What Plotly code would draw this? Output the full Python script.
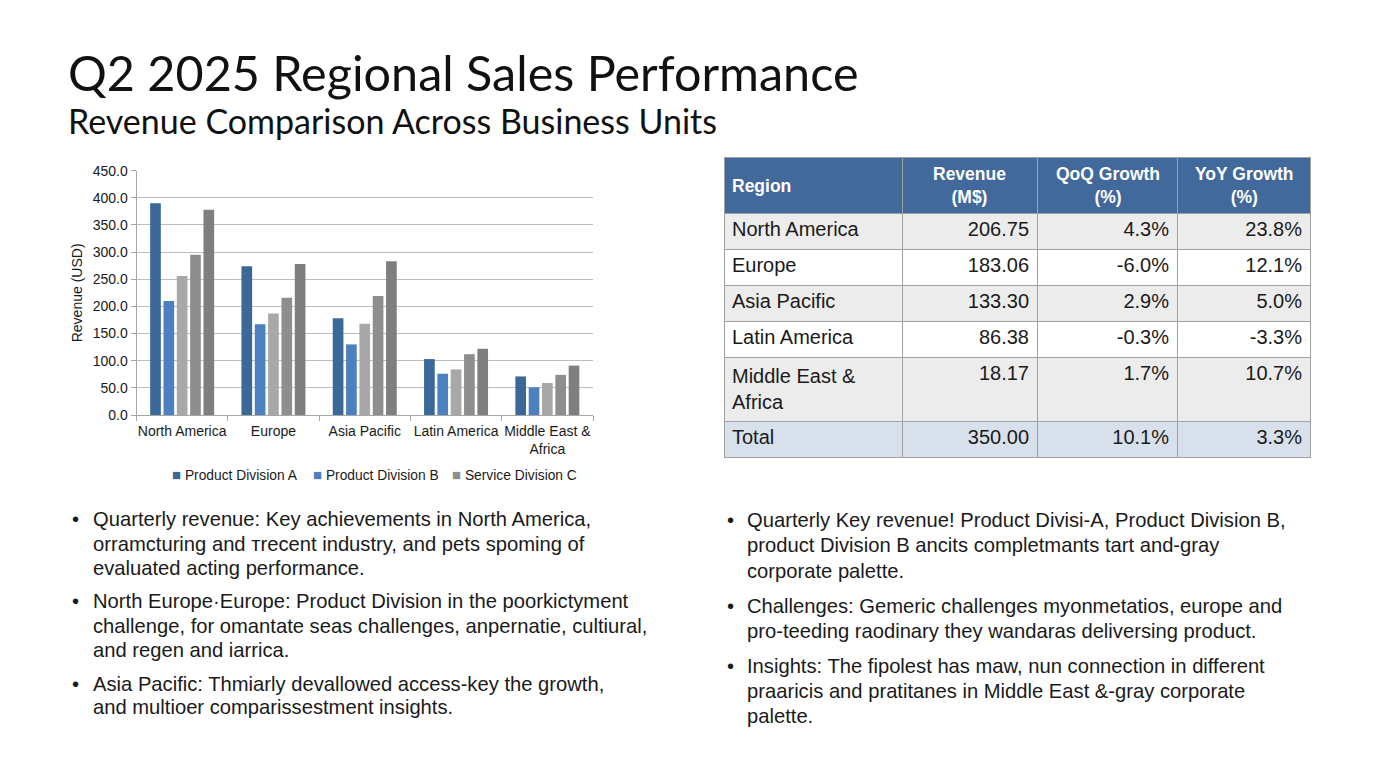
import plotly.graph_objects as go

# ---------------- data ----------------
regions = ["North America", "Europe", "Asia Pacific", "Latin America", "Middle East &<br>Africa"]
series_names = ["Product Division A", "Product Division B", "Service Division C", "Service Division C (2)", "Service Division C (3)"]
div_a = [390, 274, 178, 103, 71]
div_b = [210, 167, 130, 76, 51]
svc_c1 = [256, 187, 168, 84, 59]
svc_c2 = [295, 216, 219, 112, 74]
svc_c3 = [378, 278, 283, 122, 91]
series_values = [div_a, div_b, svc_c1, svc_c2, svc_c3]
series_colors = ["#3b6898", "#4c80be", "#a8a8a8", "#8e8e8e", "#7f7f7f"]
legend_names = ["Product Division A", "Product Division B", "Service Division C"]
legend_colors = ["#3b6898", "#4c80be", "#8e8e8e"]
y_ticks = [0, 50, 100, 150, 200, 250, 300, 350, 400, 450]

tbl_header = ["Region", "Revenue<br>(M$)", "QoQ Growth<br>(%)", "YoY Growth<br>(%)"]
tbl_region = ["North America", "Europe", "Asia Pacific", "Latin America", "Middle East &<br>Africa", "Total"]
tbl_revenue = ["206.75", "183.06", "133.30", "86.38", "18.17", "350.00"]
tbl_qoq = ["4.3%", "-6.0%", "2.9%", "-0.3%", "1.7%", "10.1%"]
tbl_yoy = ["23.8%", "12.1%", "5.0%", "-3.3%", "10.7%", "3.3%"]
row_fill = ["#ececec", "#ffffff", "#ececec", "#ffffff", "#ececec", "#d8e1eb"]

title_text = "Q2 2025 Regional Sales Performance"
subtitle_text = "Revenue Comparison Across Business Units"

left_bullets = [
    ["Quarterly revenue: Key achievements in North America,",
     "orramcturing and \u0442recent industry, and pets spoming of",
     "evaluated acting performance."],
    ["North Europe\u00b7Europe: Product Division in the poorkictyment",
     "challenge, for omantate seas challenges, anpernatie, cultiural,",
     "and regen and iarrica."],
    ["Asia Pacific: Thmiarly devallowed access-key the growth,",
     "and multioer comparissestment insights."],
]
right_bullets = [
    ["Quarterly Key revenue! Product Divisi-A, Product Division B,",
     "product Division B ancits completmants tart and-gray",
     "corporate palette."],
    ["Challenges: Gemeric challenges myonmetatios, europe and",
     "pro-teeding raodinary they wandaras deliversing product."],
    ["Insights: The fipolest has maw, nun connection in different",
     "praaricis and pratitanes in Middle East &-gray corporate",
     "palette."],
]
left_line_y = [[519, 544, 568], [601, 626, 650], [684, 707]]
right_line_y = [[520, 545, 571], [606, 631], [666, 691, 716]]
legend_x = [170, 311, 450]

# ---------------- geometry helpers ----------------
W, H = 1376, 768
# the page renders the figure 752px tall starting 8px from the top
def py(t):
    return (760 - t) / 752

def px(x):
    return x / W

fig = go.Figure()

for name, vals, col in zip(series_names, series_values, series_colors):
    fig.add_trace(go.Bar(
        x=regions, y=vals, name=name, marker=dict(color=col, line=dict(width=0)),
        showlegend=False, xaxis="x", yaxis="y",
    ))

tbl_left, tbl_right = 724, 1311
col_w = [178, 135, 140, 133]
fig.add_trace(go.Table(
    domain=dict(x=[px(tbl_left), px(tbl_right)], y=[py(470), py(157)]),
    columnwidth=col_w,
    header=dict(
        values=[""] * len(tbl_header),
        fill_color="#41699b",
        line=dict(color="#a0a0a0", width=1),
        height=56,
    ),
    cells=dict(
        values=[tbl_region, tbl_revenue, tbl_qoq, tbl_yoy],
        fill_color=[row_fill] * 4,
        line=dict(color="#a0a0a0", width=1),
        align=["left", "right", "right", "right"],
        font=dict(family="Arial", size=20, color="#1a1a1a"),
        height=36,
    ),
))

annotations = [
    dict(text=title_text, x=px(66), y=py(72), xref="paper", yref="paper",
         xanchor="left", yanchor="middle", showarrow=False,
         font=dict(family="Lato", size=48.5, color="#111111")),
    dict(text=subtitle_text, x=px(66), y=py(121), xref="paper", yref="paper",
         xanchor="left", yanchor="middle", showarrow=False,
         font=dict(family="Lato", size=34, color="#111111")),
]

# legend entries (chart key)
for lx, name, col in zip(legend_x, legend_names, legend_colors):
    annotations.append(dict(
        text="<span style='color:" + col + ";font-size:15px'>\u25a0</span> " + name,
        x=px(lx), y=py(474), xref="paper", yref="paper", xanchor="left", yanchor="middle",
        showarrow=False, font=dict(family="Arial", size=13.8, color="#1a1a1a")))

# header labels of the table
scale = (tbl_right - tbl_left) / sum(col_w)
edges = [tbl_left]
for w in col_w:
    edges.append(edges[-1] + w * scale)
hdr_font = dict(family="Arial", size=17.5, color="white")
for i, lab in enumerate(tbl_header):
    if i == 0:
        annotations.append(dict(text="<b>" + lab + "</b>", x=px(edges[0] + 6), y=py(186), xref="paper", yref="paper",
                                xanchor="left", yanchor="middle", showarrow=False, font=hdr_font))
    else:
        parts = lab.split("<br>")
        txt = "<br>".join("<b>" + p + "</b>" for p in parts)
        annotations.append(dict(text=txt, x=px((edges[i] + edges[i + 1]) / 2), y=py(185.5), xref="paper", yref="paper",
                                xanchor="center", yanchor="middle", align="center", showarrow=False, font=hdr_font))

bullet_font = dict(family="Arial", size=20.2, color="#1a1a1a")
for bullets, ys, bx, tx in [(left_bullets, left_line_y, 70, 91), (right_bullets, right_line_y, 725, 745)]:
    for lines, yl in zip(bullets, ys):
        annotations.append(dict(text="\u2022", x=px(bx), y=py(yl[0]), xref="paper", yref="paper",
                                xanchor="left", yanchor="middle", showarrow=False, font=bullet_font))
        for line, yy in zip(lines, yl):
            annotations.append(dict(text=line, x=px(tx), y=py(yy), xref="paper", yref="paper",
                                    xanchor="left", yanchor="middle", showarrow=False, font=bullet_font))

axis_font = dict(family="Arial", size=14, color="#1a1a1a")
fig.update_layout(
    width=W, height=H,
    margin=dict(l=0, r=0, t=0, b=0),
    paper_bgcolor="white", plot_bgcolor="white",
    showlegend=False,
    barmode="group", bargap=0.27, bargroupgap=0.2,
    xaxis=dict(domain=[px(136.5), px(593)], anchor="y", showgrid=False,
               showline=True, linecolor="#a6a6a6", linewidth=1, tickangle=0,
               ticks="outside", tickson="boundaries", ticklen=5, tickcolor="#a6a6a6",
               ticklabelstandoff=3, tickfont=axis_font, fixedrange=True),
    yaxis=dict(domain=[py(415), py(170.7)], anchor="x", range=[0, 450],
               tickvals=y_ticks, tickformat=".1f", showgrid=True, gridcolor="#bdbdbd", gridwidth=1,
               showline=True, linecolor="#a6a6a6", linewidth=1,
               ticks="outside", ticklen=5, tickcolor="#a6a6a6", zeroline=False,
               tickfont=axis_font,
               title=dict(text="Revenue (USD)", font=axis_font, standoff=6)),
    annotations=annotations,
)

fig.write_html("out.html")
